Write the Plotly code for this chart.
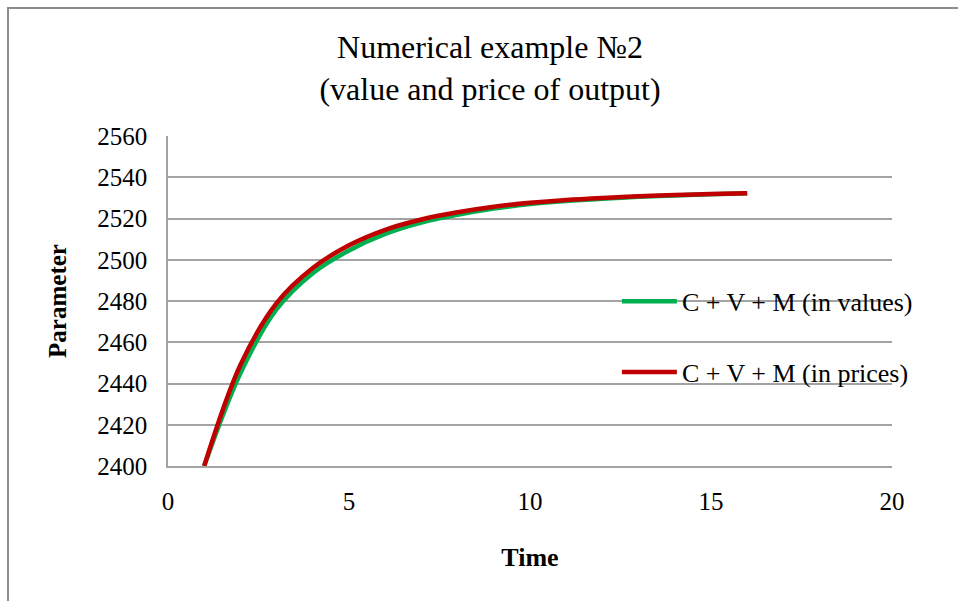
import plotly.graph_objects as go

# Time steps and the two output series
time = [1, 2, 3, 4, 5, 6, 7, 8, 9, 10, 11, 12, 13, 14, 15, 16]
output_values = [2400, 2445, 2476, 2493.5, 2504.5, 2512.5, 2518, 2521.8, 2524.8, 2527,
                 2528.5, 2529.6, 2530.5, 2531.2, 2531.8, 2532.3]
output_prices = [2400, 2449, 2479, 2496, 2507, 2514.5, 2519.5, 2523, 2525.7, 2527.6,
                 2529, 2530, 2530.8, 2531.4, 2531.9, 2532.3]

series_names = ["C + V + M (in values)", "C + V + M (in prices)"]
series_colors = ["#00B050", "#C00000"]

x_ticks = [0, 5, 10, 15, 20]
y_ticks = [2400, 2420, 2440, 2460, 2480, 2500, 2520, 2540, 2560]

SERIF = "Liberation Serif, Times New Roman, serif"
GRID = "#A3A3A3"

fig = go.Figure()
for i, ys in enumerate([output_values, output_prices]):
    fig.add_trace(go.Scatter(
        x=time, y=ys, mode="lines", name=series_names[i],
        line=dict(color=series_colors[i], width=4.5, shape="spline", smoothing=1.0),
        legendgroup=f"g{i}",
    ))

fig.update_layout(
    width=958, height=601,
    margin=dict(l=168, r=66, t=136, b=135),
    paper_bgcolor="white", plot_bgcolor="white",
    font=dict(family=SERIF, color="black", size=25),
    title=dict(
        text="Numerical example №2<br>(value and price of output)",
        x=490 / 958, xanchor="center", xref="container",
        y=1 - 58 / 601, yanchor="top", yref="container",
        font=dict(family=SERIF, size=32, color="black"),
    ),
    showlegend=True,
    legend=dict(
        x=0.62, xanchor="left", y=0.57, yanchor="top",
        bgcolor="rgba(0,0,0,0)", borderwidth=0,
        font=dict(family=SERIF, size=26, color="black"),
        itemwidth=55, tracegroupgap=34, traceorder="grouped",
    ),
    xaxis=dict(
        range=[0, 20], tickvals=x_ticks, ticktext=[str(v) for v in x_ticks],
        showgrid=False, zeroline=False, showline=True, linecolor=GRID, linewidth=1.5,
        ticks="", ticklabelstandoff=12,
        title=dict(text="<b>Time</b>", font=dict(family=SERIF, size=26), standoff=34),
    ),
    yaxis=dict(
        range=[2400, 2560], tickvals=y_ticks, ticktext=[str(v) for v in y_ticks],
        showgrid=True, gridcolor=GRID, gridwidth=1.5,
        zeroline=False, showline=True, linecolor=GRID, linewidth=1.5,
        ticks="", ticklabelstandoff=14,
        title=dict(text="<b>Parameter</b>", font=dict(family=SERIF, size=25), standoff=24),
    ),
    shapes=[dict(
        type="rect", xref="paper", yref="paper",
        x0=(8 - 168) / 724, x1=(975 - 168) / 724,
        y0=(466 - 620) / 330, y1=(466 - 8) / 330,
        line=dict(color="#8C8C8C", width=2), fillcolor="rgba(0,0,0,0)",
        layer="below",
    )],
)

fig.write_html("out.html")
